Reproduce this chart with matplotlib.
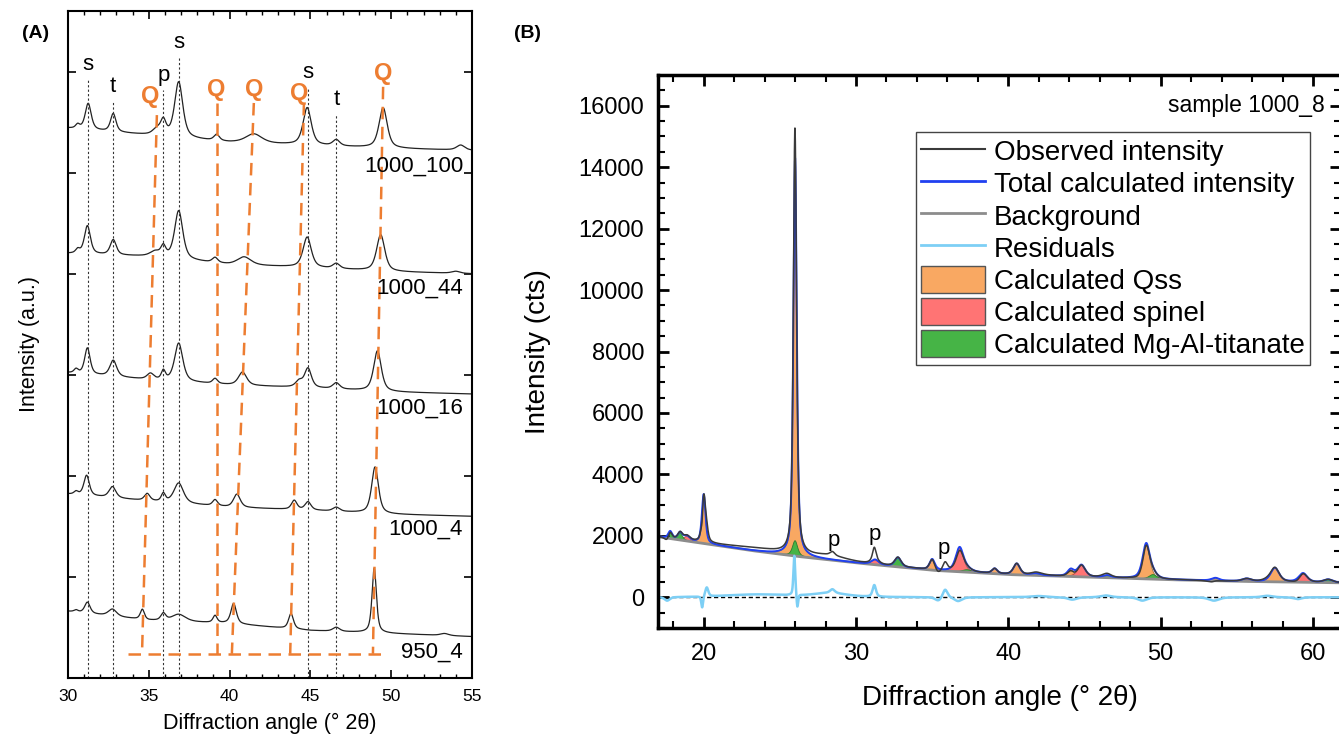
import numpy as np
import matplotlib
matplotlib.use("Agg")
import matplotlib.pyplot as plt
from matplotlib.lines import Line2D
from matplotlib.patches import Patch

plt.rcParams['font.family'] = ['Liberation Sans', 'DejaVu Sans']

# ---------------- panel A data (stacked patterns, a.u.) ----------------
samples = ['1000_100', '1000_44', '1000_16', '1000_4', '950_4']
bg_knots = [30, 35, 40, 45, 50, 55]
# background levels read at the knots
bg_1000_100 = [5.44, 5.37, 5.30, 5.27, 5.24, 5.22]
bg_1000_44 = [4.20, 4.17, 4.09, 4.06, 4.02, 4.00]
bg_1000_16 = [3.02, 2.95, 2.90, 2.87, 2.83, 2.81]
bg_1000_4 = [1.82, 1.75, 1.69, 1.66, 1.62, 1.60]
bg_950_4 = [0.66, 0.57, 0.54, 0.47, 0.44, 0.41]
# peaks: (position, height, half width)
pk_1000_100 = [(30.6, 0.04, 0.15), (31.25, 0.26, 0.22), (32.8, 0.18, 0.2), (35.5, 0.06, 0.3),
               (35.9, 0.14, 0.2), (36.85, 0.55, 0.3), (39.2, 0.06, 0.2), (41.5, 0.09, 0.6),
               (44.8, 0.37, 0.3), (46.6, 0.06, 0.25), (49.5, 0.40, 0.3), (54.3, 0.05, 0.3)]
pk_1000_44 = [(30.6, 0.04, 0.15), (31.2, 0.28, 0.22), (32.8, 0.15, 0.22), (35.4, 0.05, 0.35),
              (35.9, 0.10, 0.18), (36.85, 0.48, 0.3), (39.1, 0.05, 0.2), (40.9, 0.08, 0.5),
              (44.8, 0.30, 0.3), (46.6, 0.05, 0.25), (49.35, 0.36, 0.3), (54.0, 0.02, 0.3)]
pk_1000_16 = [(30.5, 0.04, 0.15), (31.2, 0.26, 0.2), (32.8, 0.16, 0.25), (35.1, 0.06, 0.25),
              (35.9, 0.09, 0.15), (36.85, 0.38, 0.3), (39.1, 0.05, 0.18), (40.8, 0.13, 0.3),
              (44.3, 0.06, 0.25), (44.85, 0.19, 0.25), (46.6, 0.06, 0.25), (49.15, 0.40, 0.28)]
pk_1000_4 = [(30.5, 0.03, 0.15), (31.15, 0.20, 0.2), (32.75, 0.11, 0.25), (34.9, 0.07, 0.2),
             (35.9, 0.08, 0.15), (36.85, 0.20, 0.35), (39.1, 0.06, 0.18), (40.45, 0.13, 0.25),
             (44.0, 0.09, 0.2), (44.85, 0.08, 0.22), (46.6, 0.04, 0.25), (49.0, 0.46, 0.25)]
pk_950_4 = [(30.5, 0.02, 0.15), (31.2, 0.11, 0.2), (32.75, 0.07, 0.3), (34.6, 0.10, 0.15),
            (35.9, 0.07, 0.18), (36.85, 0.07, 0.5), (39.1, 0.07, 0.15), (40.25, 0.20, 0.2),
            (43.8, 0.15, 0.18), (46.6, 0.04, 0.25), (48.95, 0.64, 0.16), (53.3, 0.02, 0.3)]
label_y = [5.06, 3.86, 2.67, 1.47, 0.26]

# phase markers
ref_lbl = ['s', 't', 'p', 's', 's', 't']
ref_x = [31.25, 32.8, 35.9, 36.85, 44.85, 46.6]
ref_y = [6.07, 5.85, 5.96, 6.29, 5.99, 5.72]
q_top_x = [35.5, 39.2, 41.5, 44.6, 49.5]
q_top_y = [5.57, 5.69, 5.69, 5.69, 5.85]
q_bot_x = [34.58, 39.2, 40.14, 43.75, 48.87]
q_bot_y = 0.24
q_lbl_x = [35.1, 39.2, 41.5, 44.3, 49.5]
q_lbl_y = [5.75, 5.82, 5.82, 5.78, 5.98]

# ---------------- panel B data (Rietveld, counts) ----------------
bgB_x = [17, 20, 23, 26, 30, 35, 40, 45, 50, 55, 62]
bgB_y = [1970, 1750, 1530, 1340, 1120, 880, 740, 660, 580, 520, 470]
qss_pk = [(20.0, 1600, 0.14), (26.0, 12460, 0.13), (35.0, 350, 0.2), (39.1, 160, 0.2),
          (40.55, 360, 0.25), (44.1, 220, 0.25), (49.05, 1130, 0.28), (53.6, 90, 0.3),
          (55.6, 50, 0.35), (57.5, 450, 0.33)]
spinel_pk = [(18.9, 150, 0.25), (31.25, 160, 0.28), (36.8, 780, 0.3), (44.8, 380, 0.3),
             (55.7, 40, 0.35), (59.35, 290, 0.32)]
titanate_pk = [(17.8, 230, 0.15), (18.45, 230, 0.18), (26.0, 500, 0.2), (32.75, 300, 0.25),
               (37.3, 80, 0.35), (41.8, 60, 0.35), (46.5, 70, 0.3), (49.5, 150, 0.3),
               (61.0, 100, 0.35)]
resid_pk = [(17.6, -120, 0.2), (19.9, -380, 0.07), (20.2, 300, 0.12), (23.5, 90, 2.5),
            (25.95, 1300, 0.07), (26.15, -450, 0.06), (28.3, 130, 1.3), (28.45, 120, 0.18),
            (31.2, 380, 0.13), (35.4, -120, 0.25), (35.85, 270, 0.18), (36.7, -130, 0.3),
            (42.0, 40, 0.6), (44.2, -80, 0.35), (46.4, 60, 0.4), (48.8, -110, 0.35),
            (53.5, -110, 0.4), (57.0, 50, 0.4), (59.0, -60, 0.3)]
p_x = [28.56, 31.2, 35.75]
p_y = [1860, 2055, 1600]


def profile(x, peaks, eta=0.55):
    y = np.zeros_like(x)
    for c, h, w in peaks:
        d = (x - c) / w
        y += h * (eta / (1 + d**2) + (1 - eta) * np.exp(-np.log(2) * d**2))
    return y


fig = plt.figure(figsize=(13.39, 7.39), dpi=100)

# ======================= (A) =======================
axA = fig.add_axes([68/1339, 1-678/739, 404/1339, 667/739])
xa = np.linspace(30, 55, 2500)
bgs = [bg_1000_100, bg_1000_44, bg_1000_16, bg_1000_4, bg_950_4]
pks = [pk_1000_100, pk_1000_44, pk_1000_16, pk_1000_4, pk_950_4]
for name, bg, pk, ly in zip(samples, bgs, pks, label_y):
    axA.plot(xa, np.interp(xa, bg_knots, bg) + profile(xa, pk, 0.6), color='#222222', lw=0.9)
    axA.text(54.45, ly, name, ha='right', va='center', fontsize=16)

for lbl, x, y in zip(ref_lbl, ref_x, ref_y):
    axA.text(x, y, lbl, ha='center', va='center', fontsize=16)
    axA.plot([x, x], [0, y - 0.14], color='#333333', lw=0.8, ls=(0, (2, 2)))

orange = '#ED7D31'
for tx, ty, bx in zip(q_top_x, q_top_y, q_bot_x):
    axA.plot([tx, bx], [ty, q_bot_y], color=orange, lw=1.8, ls=(0, (5, 3)))
axA.plot([33.71, 49.73], [q_bot_y, q_bot_y], color=orange, lw=1.8, ls=(0, (5, 3)))
for x, y in zip(q_lbl_x, q_lbl_y):
    axA.text(x, y, 'Q', ha='center', va='center', fontsize=17, fontweight='bold', color=orange)

axA.set_xlim(30, 55)
axA.set_ylim(0, 6.6)
axA.set_xticks(range(30, 56, 5))
axA.set_xticks(range(30, 56), minor=True)
axA.set_yticks(range(1, 7))
axA.set_yticklabels([])
axA.tick_params(direction='in', top=True, right=True, labelsize=12.5, pad=8, length=6, width=1.2)
axA.tick_params(which='minor', direction='in', top=True, length=3, width=1)
for s in axA.spines.values():
    s.set_linewidth(1.5)
axA.set_xlabel('Diffraction angle (° 2θ)', fontsize=15.5, labelpad=6)
axA.set_ylabel('Intensity (a.u.)', fontsize=15.5, labelpad=12)
fig.text(22/1339, 1-33/739, '(A)', fontsize=14, fontweight='bold', va='center')

# ======================= (B) =======================
axB = fig.add_axes([658/1339, 1-628/739, 683/1339, 553/739])
xb = np.linspace(17, 62, 6000)
bgB = np.interp(xb, bgB_x, bgB_y)
qss = profile(xb, qss_pk)
spinel = profile(xb, spinel_pk)
titan = profile(xb, titanate_pk)
calc = bgB + qss + spinel + titan
resid = profile(xb, resid_pk)
obs = calc + resid

axB.fill_between(xb, bgB, bgB + qss, where=qss > 8, color='#F9A862', edgecolor='#A0703F', lw=0.6)
axB.fill_between(xb, bgB, bgB + spinel, where=spinel > 8, color='#FF7474', edgecolor='#B04848', lw=0.6)
axB.fill_between(xb, bgB, bgB + titan, where=titan > 8, color='#46B446', edgecolor='#2E7A2E', lw=0.6)
axB.plot(xb, bgB, color='#8C8C8C', lw=2)
axB.plot(xb, calc, color='#2040F0', lw=1.4)
axB.plot(xb, obs, color='#3A3A3A', lw=1.1)
axB.axhline(0, color='black', lw=1, ls=(0, (3, 2)))
axB.plot(xb, resid, color='#7DCFF5', lw=1.8)

for x, y in zip(p_x, p_y):
    axB.text(x, y, 'p', ha='center', va='center', fontsize=16)

axB.text(60.8, 16000, 'sample 1000_8', ha='right', va='center', fontsize=16.5)

axB.set_xlim(17, 61.84)
axB.set_ylim(-1000, 17000)
axB.set_xticks([20, 30, 40, 50, 60])
axB.set_xticks(np.arange(18, 62, 2), minor=True)
axB.set_yticks(range(0, 17000, 2000))
axB.set_yticks(range(-1000, 17000, 500), minor=True)
axB.tick_params(direction='in', top=True, right=True, labelsize=17, length=8, width=2)
axB.tick_params(axis='x', pad=11)
axB.tick_params(axis='y', pad=10)
axB.tick_params(which='minor', direction='in', top=True, right=True, length=5, width=1.5)
for s in axB.spines.values():
    s.set_linewidth(2.5)
axB.set_xlabel('Diffraction angle (° 2θ)', fontsize=20, labelpad=14)
axB.set_ylabel('Intensity (cts)', fontsize=20, labelpad=20)
fig.text(514/1339, 1-33/739, '(B)', fontsize=14, fontweight='bold', va='center')

handles = [Line2D([], [], color='#3A3A3A', lw=1.5),
           Line2D([], [], color='#2040F0', lw=2),
           Line2D([], [], color='#8C8C8C', lw=2),
           Line2D([], [], color='#7DCFF5', lw=2),
           Patch(facecolor='#F9A862', edgecolor='#555555'),
           Patch(facecolor='#FF7474', edgecolor='#555555'),
           Patch(facecolor='#46B446', edgecolor='#555555')]
labels = ['Observed intensity', 'Total calculated intensity', 'Background', 'Residuals',
          'Calculated Qss', 'Calculated spinel', 'Calculated Mg-Al-titanate']
leg = axB.legend(handles, labels, loc='upper right', bbox_to_anchor=(1310/1339, 1-132/739),
                 bbox_transform=fig.transFigure, fontsize=20, frameon=True, fancybox=False,
                 framealpha=1, edgecolor='#444444', borderpad=0.2, labelspacing=0.12,
                 handlelength=2.3, handleheight=1.1, handletextpad=0.3, borderaxespad=0)
leg.get_frame().set_linewidth(1)

fig.savefig('out.png', dpi=100)
